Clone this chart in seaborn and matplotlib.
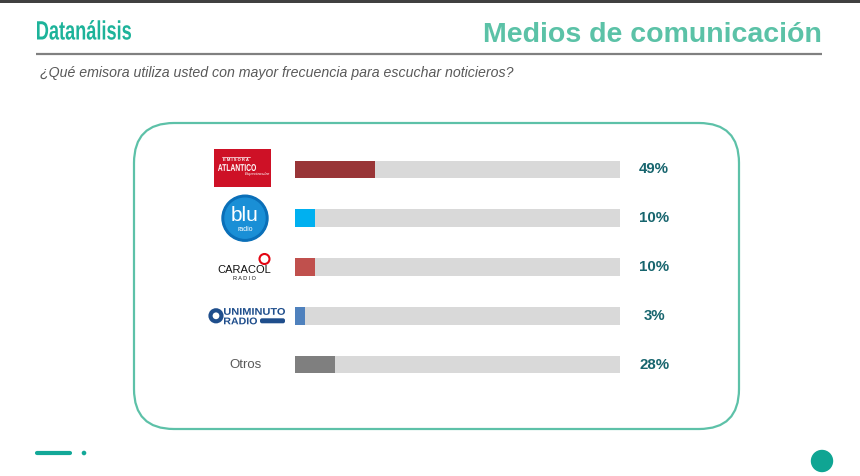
import matplotlib
matplotlib.use('Agg')
import matplotlib.pyplot as plt
import seaborn as sns
import pandas as pd
from matplotlib.patches import FancyBboxPatch, Circle, Rectangle, PathPatch
from matplotlib.textpath import TextPath
from matplotlib.font_manager import FontProperties
from matplotlib.transforms import Affine2D

# Datos
emisoras = ['Emisora Atlántico', 'Blu Radio', 'Caracol Radio', 'Uniminuto Radio', 'Otros']
porcentajes = [49, 10, 10, 3, 28]
# longitud de barra tal como se dibuja en la lámina (% del carril gris)
largo_barra = [24.6, 6.2, 6.2, 3.1, 12.3]
colores = ['#993537', '#00B0F0', '#C0504D', '#4F81BD', '#7F7F7F']

df = pd.DataFrame({'emisora': emisoras, 'pct': porcentajes,
                   'largo': largo_barra, 'fondo': [100] * len(emisoras)})

sns.set_theme(style='white')
plt.rcParams['font.family'] = ['Liberation Sans', 'DejaVu Sans']

W, H = 860, 476
fig = plt.figure(figsize=(W / 100, H / 100), dpi=100)

# capa de fondo en pixeles
bg = fig.add_axes([0, 0, 1, 1])
bg.set_xlim(0, W)
bg.set_ylim(H, 0)
bg.axis('off')


def texto_estrecho(s, x, y, alto, ancho, color, **kw):
    # texto comprimido a lo ancho (fuente condensada)
    tp = TextPath((0, 0), s, size=10, prop=FontProperties(family='Liberation Sans', **kw))
    ext = tp.get_extents()
    sy = alto / (0.716 * 10)
    sx = ancho / ext.width
    tr = Affine2D().translate(-ext.x0, 0).scale(sx, -sy).translate(x, y) + bg.transData
    bg.add_patch(PathPatch(tp, fc=color, ec='none', transform=tr))


bg.add_patch(Rectangle((0, 0), W, 2.5, color='#404040', lw=0))
texto_estrecho('Datanálisis', 37, 39.5, 19, 94, '#1DB39A', weight='bold')
bg.text(822, 42.5, 'Medios de comunicación', color='#5BC2A7', fontsize=20.5,
        fontweight='bold', ha='right', va='baseline')
bg.plot([36, 822], [54, 54], color='#808080', lw=1.6, solid_capstyle='butt')
bg.text(40, 77, '¿Qué emisora utiliza usted con mayor frecuencia para escuchar noticieros?',
        color='#595959', fontsize=10.2, style='italic', va='baseline')

bg.add_patch(FancyBboxPatch((134, 123), 605, 306,
                            boxstyle='round,pad=0,rounding_size=40',
                            fc='none', ec='#5DC1A8', lw=1.6))

bg.plot([37, 70], [453, 453], color='#13A898', lw=3, solid_capstyle='round')
bg.add_patch(Circle((84, 453), 1.6, color='#13A898'))
bg.add_patch(Circle((822, 461), 10.5, color='#0FA593'))

# barras
ax = fig.add_axes([295 / W, 1 - 389 / H, 325 / W, 244 / H])
sns.barplot(data=df, x='fondo', y='emisora', color='#D9D9D9', width=0.36,
            orient='h', ax=ax, saturation=1, linewidth=0)
sns.barplot(data=df, x='largo', y='emisora', hue='emisora', palette=colores,
            width=0.36, orient='h', ax=ax, saturation=1, legend=False, linewidth=0)
ax.set_xlim(0, 100)
ax.set_ylim(4.5, -0.5)
ax.axis('off')

for i, p in enumerate(porcentajes):
    ax.text(110.5, i, f'{p}%', color='#17656E', fontsize=10.8, fontweight='bold',
            ha='center', va='center', clip_on=False)


def ypix(i):
    y = ax.transData.transform((0, i))[1]
    return bg.transData.inverted().transform((0, y))[1]


# logos aproximados
y0 = ypix(0)
bg.add_patch(Rectangle((214, y0 - 20), 57, 38, color='#CE1126', lw=0))
bg.plot([222, 250], [y0 - 12.5, y0 - 12.5], color='white', lw=0.5)
bg.text(236, y0 - 9.5, 'E M I S O R A', color='white', fontsize=3, fontweight='bold',
        ha='center', va='center')
texto_estrecho('ATLANTICO', 218, y0 + 1.5, 7, 38, 'white', weight='bold')
bg.text(257, y0 + 5, 'Espectacular', color='white', fontsize=3.2, style='italic',
        ha='center', va='center')

y1 = ypix(1)
bg.add_patch(Circle((245, y1), 23, color='#0A6FB8'))
bg.add_patch(Circle((245, y1), 20, color='#1A8FD6'))
bg.text(245, y1 - 3, 'blu', color='white', fontsize=15, ha='center', va='center')
bg.text(245, y1 + 11, 'radio', color='white', fontsize=5, ha='center', va='center')

y2 = ypix(2)
bg.text(244, y2 + 3, 'CARACOL', color='#111111', fontsize=8, ha='center', va='center')
bg.add_patch(Circle((264.5, y2 - 8), 5, fc='none', ec='#E30613', lw=1.5))
bg.text(244, y2 + 11, 'R A D I O', color='#111111', fontsize=4, ha='center', va='center')

y3 = ypix(3)
bg.add_patch(Circle((216, y3), 5.5, fc='none', ec='#1F4E8C', lw=3))
texto_estrecho('UNIMINUTO', 224, y3 - 1, 7, 61, '#1F4E8C', weight='bold')
texto_estrecho('RADIO', 224, y3 + 8.5, 7, 33, '#1F4E8C', weight='bold')
bg.add_patch(FancyBboxPatch((260, y3 + 2.5), 25, 5, boxstyle='round,pad=0,rounding_size=2',
                            color='#1F4E8C', lw=0))

y4 = ypix(4)
bg.text(245, y4, 'Otros', color='#595959', fontsize=9.5, ha='center', va='center')

fig.savefig('out.png', dpi=100)
